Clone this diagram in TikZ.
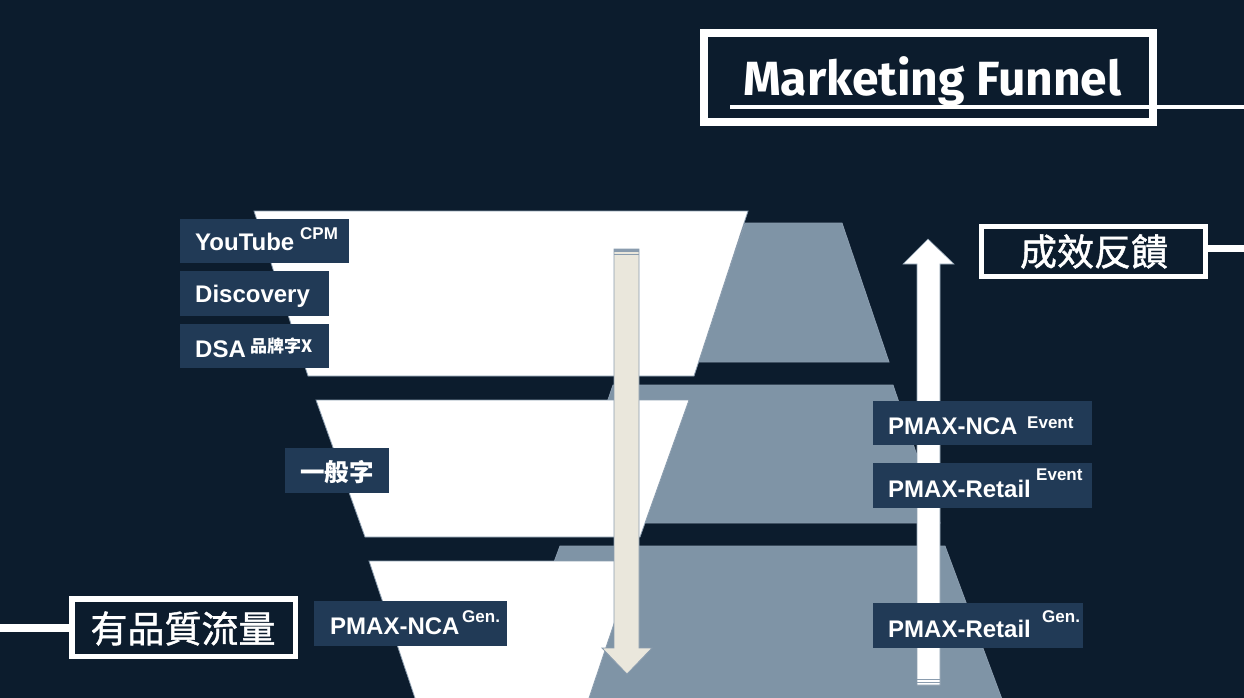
\documentclass[tikz,border=0pt]{standalone}
\usepackage{fontspec}
\setmainfont{Liberation Sans}
\newfontfamily\cjk{Noto Sans CJK TC}
\newfontfamily\cjkm[FakeBold=1.2]{Noto Sans CJK TC}
\newfontfamily\titlefont{Fira Sans}
\definecolor{bg}{HTML}{0C1C2D}
\definecolor{slate}{HTML}{7F94A6}
\definecolor{edgec}{HTML}{8A9CAE}
\definecolor{lboxc}{HTML}{213A56}
\definecolor{beige}{HTML}{EAE7DC}
\newcommand\fsz[1]{\fontsize{#1}{#1}\selectfont}
\begin{document}
\begin{tikzpicture}[x=1pt,y=-1pt,
  wfun/.style={fill=white,draw=edgec,line width=0.8pt},
  gfun/.style={fill=slate,draw=edgec,line width=0.8pt},
  lblbox/.style={fill=lboxc,draw=none,inner sep=0pt,anchor=north west},
  lbl/.style={text=white,font=\bfseries\fsz{24},inner sep=0pt,anchor=base west},
  suplbl/.style={text=white,font=\bfseries\fsz{17},inner sep=0pt,anchor=base west},
  cjklbl/.style={text=white,inner sep=0pt,anchor=base west},
  framebox/.style={draw=white,fill=none,inner sep=0pt},
  barline/.style={draw=white},
  cjkbig/.style={text=white,inner sep=0pt,anchor=base,font=\cjkm\fsz{37}}]
\fill[bg] (0,0) rectangle (1244,698);
\useasboundingbox (0,0) rectangle (1244,698);
\clip (0,0) rectangle (1244,698);

% slate trapezoids
\fill[gfun] (745,223) -- (842,223) -- (889,362) -- (698,362) -- cycle;
\fill[gfun] (613,385) -- (893,385) -- (940,523) -- (566,523) -- cycle;
\fill[gfun] (560,546) -- (945,546) -- (1006,710) -- (499,710) -- cycle;

% white funnel
\filldraw[wfun] (254,211) -- (748,211) -- (694,376) -- (308,376) -- cycle;
\filldraw[wfun] (316,400) -- (689,400) -- (640,537) -- (365,537) -- cycle;
\filldraw[wfun] (369,561) -- (635,561) -- (585,710) -- (419,710) -- cycle;

% down arrow
\filldraw[fill=beige,draw=edgec,line width=0.8pt] (614,249) -- (639,249) -- (639,648) -- (652,648) -- (627,674) -- (602,648) -- (614,648) -- cycle;
\fill[edgec] (614,249) rectangle (639,252);
\draw[edgec,line width=1.5pt] (614,254.3) -- (639,254.3);

% up arrow
\filldraw[fill=white,draw=edgec,line width=0.6pt] (917,685) -- (917,264) -- (903,264) -- (928,239) -- (954,264) -- (940,264) -- (940,685) -- cycle;
\draw[edgec,line width=1pt] (917,679) -- (940,679);
\draw[edgec,line width=1pt] (917,682.5) -- (940,682.5);

% label boxes
\node[lblbox,minimum width=169pt,minimum height=44pt] (ytbox) at (180,219) {};
\node[lblbox,minimum width=149pt,minimum height=45pt] (discbox) at (180,271) {};
\node[lblbox,minimum width=149pt,minimum height=44pt] (dsabox) at (180,324) {};
\node[lblbox,minimum width=104pt,minimum height=45pt] (genbox) at (285,448) {};
\node[lblbox,minimum width=193pt,minimum height=45pt] (ncagbox) at (314,601) {};
\node[lblbox,minimum width=219pt,minimum height=44pt] (ncaebox) at (873,401) {};
\node[lblbox,minimum width=219pt,minimum height=45pt] (retebox) at (873,463) {};
\node[lblbox,minimum width=210pt,minimum height=45pt] (retgbox) at (873,603) {};

% label texts
\node[lbl] (yt) at (195,250) {YouTube};
\node[suplbl] (ytsup) at (300,239) {CPM};
\node[lbl] (disc) at (195,302) {Discovery};
\node[lbl] (dsa) at (195,357) {DSA};
\node[cjklbl,font=\cjk\bfseries\fsz{17}] (dsasup) at (250,352) {品牌字X};
\node[cjklbl,font=\cjk\bfseries\fsz{24.5}] (gen) at (300,481.5) {一般字};
\node[lbl] (ncag) at (330,634) {PMAX-NCA};
\node[suplbl] (ncagsup) at (462,622) {Gen.};
\node[lbl] (ncae) at (888,434) {PMAX-NCA};
\node[suplbl] (ncaesup) at (1027,428) {Event};
\node[lbl] (rete) at (888,497) {PMAX-Retail};
\node[suplbl] (retesup) at (1036,480) {Event};
\node[lbl] (retg) at (888,637) {PMAX-Retail};
\node[suplbl] (retgsup) at (1042,622) {Gen.};

% title
\node[framebox,line width=8pt,minimum width=449pt,minimum height=89pt] (titlebox) at (928.5,77.5) {};
\coordinate (ulstart) at (730,107);
\coordinate (ulend) at (1244,107);
\draw[barline,line width=4pt] (ulstart) -- (ulend);
\node[text=white,inner sep=0pt,anchor=base west,font=\titlefont\bfseries\fsz{48}] (title) at (743,96) {Marketing Funnel};

% feedback box
\node[framebox,line width=5pt,minimum width=224pt,minimum height=50pt] (fbbox) at (1093.5,251.5) {};
\coordinate (fbend) at (1244,248);
\draw[barline,line width=7pt] (fbbox.east |- fbend) -- (fbend);
\node[cjkbig] (fbtext) at (1094,265.5) {成效反饋};

% quality traffic box
\node[framebox,line width=5.5pt,minimum width=223.5pt,minimum height=57.5pt] (qtbox) at (183.5,627.5) {};
\coordinate (qtstart) at (0,628);
\draw[barline,line width=8pt] (qtstart) -- (qtbox.west |- qtstart);
\node[cjkbig] (qttext) at (183,642.5) {有品質流量};
\end{tikzpicture}
\end{document}
